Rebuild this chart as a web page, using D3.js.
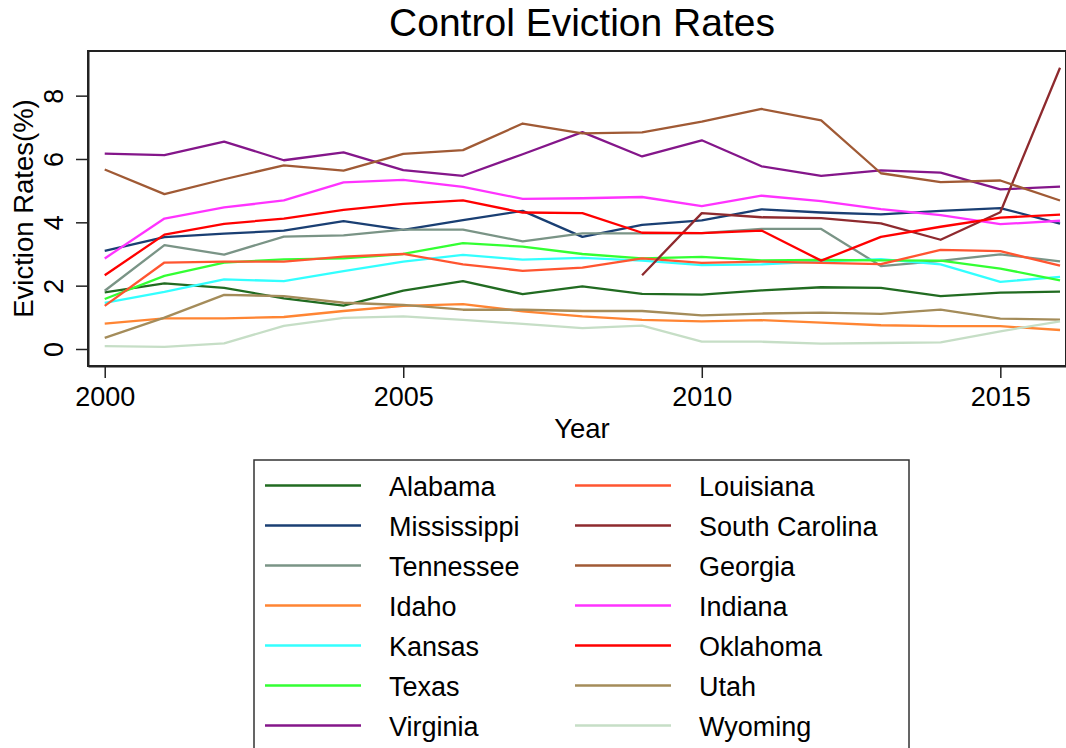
<!DOCTYPE html>
<html>
<head>
<meta charset="utf-8">
<script src="https://cdn.jsdelivr.net/npm/d3@7"></script>
<style>
  body { margin: 0; background: #fff; }
  svg { font-family: "Liberation Sans", Arial, Helvetica, sans-serif; }
</style>
</head>
<body>
<div id="chart"></div>
<script>
const years = [2000, 2001, 2002, 2003, 2004, 2005, 2006, 2007, 2008, 2009, 2010, 2011, 2012, 2013, 2014, 2015, 2016]

const alabama       = [1.79, 2.07, 1.93, 1.60, 1.37, 1.84, 2.14, 1.73, 1.98, 1.74, 1.72, 1.85, 1.95, 1.93, 1.67, 1.78, 1.81]
const mississippi   = [3.10, 3.53, 3.64, 3.74, 4.04, 3.76, 4.07, 4.36, 3.54, 3.92, 4.06, 4.41, 4.31, 4.25, 4.36, 4.45, 3.96]
const tennessee     = [1.84, 3.28, 2.98, 3.55, 3.59, 3.77, 3.77, 3.40, 3.65, 3.65, 3.66, 3.79, 3.79, 2.62, 2.78, 2.99, 2.77]
const idaho         = [0.80, 0.97, 0.97, 1.01, 1.20, 1.36, 1.42, 1.19, 1.03, 0.92, 0.87, 0.91, 0.83, 0.75, 0.72, 0.72, 0.60]
const kansas        = [1.46, 1.80, 2.20, 2.14, 2.46, 2.76, 2.97, 2.82, 2.88, 2.79, 2.65, 2.67, 2.76, 2.84, 2.67, 2.12, 2.28]
const texas         = [1.58, 2.31, 2.73, 2.83, 2.86, 3.00, 3.34, 3.23, 3.00, 2.86, 2.91, 2.80, 2.81, 2.80, 2.79, 2.54, 2.17]
const virginia      = [6.17, 6.12, 6.55, 5.96, 6.21, 5.65, 5.47, 6.15, 6.85, 6.08, 6.59, 5.77, 5.47, 5.64, 5.57, 5.04, 5.13]
const louisiana     = [1.36, 2.73, 2.76, 2.76, 2.92, 3.00, 2.67, 2.47, 2.57, 2.86, 2.72, 2.76, 2.72, 2.68, 3.13, 3.09, 2.63]
const southCarolina = [null, null, null, null, null, null, null, null, null, 2.33, 4.29, 4.16, 4.13, 3.97, 3.45, 4.32, 8.88]
const georgia       = [5.67, 4.89, 5.36, 5.80, 5.63, 6.16, 6.28, 7.12, 6.81, 6.84, 7.18, 7.58, 7.22, 5.55, 5.27, 5.32, 4.69]
const indiana       = [2.86, 4.12, 4.47, 4.69, 5.26, 5.34, 5.12, 4.74, 4.76, 4.80, 4.51, 4.84, 4.67, 4.42, 4.23, 3.94, 4.05]
const oklahoma      = [2.33, 3.61, 3.95, 4.12, 4.39, 4.58, 4.69, 4.31, 4.29, 3.67, 3.66, 3.74, 2.79, 3.54, 3.86, 4.15, 4.24]
const utah          = [0.35, 0.99, 1.71, 1.67, 1.46, 1.39, 1.24, 1.24, 1.20, 1.20, 1.06, 1.12, 1.15, 1.11, 1.24, 0.96, 0.93]
const wyoming       = [0.09, 0.07, 0.18, 0.73, 0.98, 1.03, 0.92, 0.79, 0.66, 0.74, 0.23, 0.23, 0.17, 0.19, 0.21, 0.56, 0.87]

const stateNames  = ["Alabama", "Mississippi", "Tennessee", "Idaho", "Kansas", "Texas", "Virginia",
                     "Louisiana", "South Carolina", "Georgia", "Indiana", "Oklahoma", "Utah", "Wyoming"]
const stateValues = [alabama, mississippi, tennessee, idaho, kansas, texas, virginia,
                     louisiana, southCarolina, georgia, indiana, oklahoma, utah, wyoming]
const stateColors = ["#216b21", "#1a3f73", "#7a9486", "#ff8533", "#33ffff", "#33ff33", "#84168a",
                     "#ff5530", "#8e2a2e", "#a05a35", "#ff33ff", "#ff0000", "#a48c5a", "#c6dec6"]

const xTicks = [2000, 2005, 2010, 2015]
const yTicks = [0, 2, 4, 6, 8]

const series = stateNames.map((name, i) => ({
    name: name,
    color: stateColors[i],
    values: years.map((yr, j) => ({ year: yr, value: stateValues[i][j] }))
}))

const dimensions = {
    width: 1066,
    height: 748,
    margin: { top: 51, right: 0, bottom: 382, left: 88 }
}
dimensions.boundedWidth = dimensions.width - dimensions.margin.left - dimensions.margin.right
dimensions.boundedHeight = dimensions.height - dimensions.margin.top - dimensions.margin.bottom
const centerX = 582

const wrapper = d3.select("#chart")
    .append("svg")
        .attr("width", dimensions.width)
        .attr("height", dimensions.height)

// title
wrapper.append("text")
    .attr("x", centerX)
    .attr("y", 36)
    .attr("text-anchor", "middle")
    .style("font-size", "39px")
    .text("Control Eviction Rates")

const boundingBox = wrapper.append("g")
    .attr("transform", `translate(${dimensions.margin.left},${dimensions.margin.top})`)

const xScale = d3.scaleLinear()
    .domain([1999.72, 2016.1])
    .range([0, dimensions.boundedWidth])

const yScale = d3.scaleLinear()
    .domain([-0.537, 9.41])
    .range([dimensions.boundedHeight, 0])

const lineGenerator = d3.line()
    .defined(d => d.value != null)
    .x(d => xScale(d.year))
    .y(d => yScale(d.value))

boundingBox.selectAll(".state")
    .data(series)
    .join("path")
        .attr("class", "state")
        .attr("d", d => lineGenerator(d.values))
        .attr("fill", "none")
        .attr("stroke", d => d.color)
        .attr("stroke-width", 2.3)
        .attr("stroke-linejoin", "round")

// plot region frame
boundingBox.append("rect")
    .attr("x", 0)
    .attr("y", 0)
    .attr("width", dimensions.boundedWidth)
    .attr("height", dimensions.boundedHeight)
    .attr("fill", "none")
    .attr("stroke", "#222")
    .attr("stroke-width", 2)

const xAxis = boundingBox.append("g")
    .attr("transform", `translate(0,${dimensions.boundedHeight})`)
    .call(d3.axisBottom(xScale).tickValues(xTicks).tickFormat(d3.format("d")).tickSize(12).tickSizeOuter(0).tickPadding(9))
xAxis.select(".domain").attr("stroke", "#222").attr("stroke-width", 2)
xAxis.selectAll(".tick line").attr("stroke", "#222").attr("stroke-width", 1.5)
xAxis.selectAll("text").style("font-size", "27px").attr("fill", "#000")

const yAxis = boundingBox.append("g")
    .call(d3.axisLeft(yScale).tickValues(yTicks).tickSize(12).tickSizeOuter(0))
yAxis.select(".domain").attr("stroke", "#222").attr("stroke-width", 2)
yAxis.selectAll(".tick line").attr("stroke", "#222").attr("stroke-width", 1.5)
yAxis.selectAll("text")
    .style("font-size", "27px")
    .attr("fill", "#000")
    .attr("transform", "rotate(-90)")
    .attr("x", 0)
    .attr("y", -25)
    .attr("dy", 0)
    .attr("text-anchor", "middle")

// axis titles
wrapper.append("text")
    .attr("transform", `translate(33,${dimensions.margin.top + dimensions.boundedHeight / 2}) rotate(-90)`)
    .attr("text-anchor", "middle")
    .style("font-size", "27.5px")
    .text("Eviction Rates(%)")

wrapper.append("text")
    .attr("x", centerX)
    .attr("y", 438)
    .attr("text-anchor", "middle")
    .style("font-size", "27.5px")
    .text("Year")

// legend
const legend = wrapper.append("g")
legend.append("rect")
    .attr("x", 254)
    .attr("y", 460)
    .attr("width", 655)
    .attr("height", 320)
    .attr("fill", "none")
    .attr("stroke", "#333")
    .attr("stroke-width", 1.5)

const rowsPerCol = 7
const legendItems = legend.selectAll(".item")
    .data(series)
    .join("g")
        .attr("class", "item")
        .attr("transform", (d, i) => {
            const col = Math.floor(i / rowsPerCol)
            const row = i % rowsPerCol
            return `translate(${col === 0 ? 265 : 575},${485.5 + row * 40})`
        })

legendItems.append("line")
    .attr("x1", 0)
    .attr("x2", 96)
    .attr("stroke", d => d.color)
    .attr("stroke-width", 2.3)

legendItems.append("text")
    .attr("x", 124)
    .attr("y", 10)
    .style("font-size", "27px")
    .text(d => d.name)
</script>
</body>
</html>
